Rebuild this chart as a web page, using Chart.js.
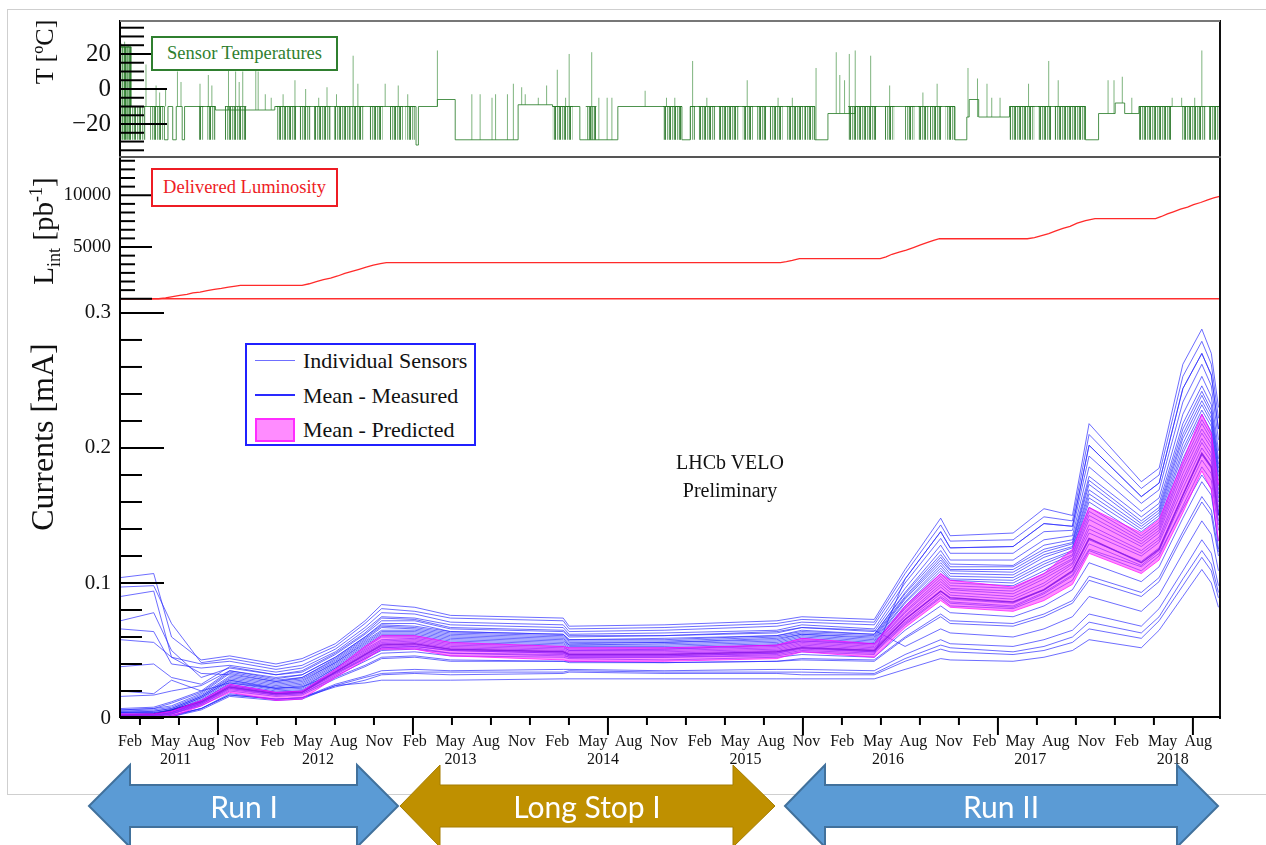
<!DOCTYPE html>
<html>
<head>
<meta charset="utf-8">
<script src="https://cdn.jsdelivr.net/npm/chart.js@4.4.1/dist/chart.umd.min.js"></script>
<style>
body { margin: 0; background: #fff; }
#wrap { position: relative; width: 1266px; height: 845px; overflow: hidden; background: #fff;
        font-family: "Liberation Serif", "Times New Roman", serif; color: #111; }
canvas { position: absolute; left: 0; }
.outer { position: absolute; left: 7px; top: 9px; width: 1300px; height: 786px; border: 1px solid #cfcfcf; box-sizing: border-box; }
.ytitle { position: absolute; transform: translate(-50%, -50%) rotate(-90deg); white-space: nowrap; line-height: 1; }
.ytitle sub, .ytitle sup { font-size: 0.62em; }
.tag { position: absolute; box-sizing: border-box; border: 2px solid; background: #fff;
       display: flex; align-items: center; justify-content: center; white-space: nowrap; }
.legend { position: absolute; left: 245px; top: 343px; width: 231px; height: 103px; box-sizing: border-box;
          border: 2px solid #2020ff; background: #fff; }
.legend .row { position: absolute; left: 56px; font-size: 22px; line-height: 1; white-space: nowrap; }
.legend .ln { position: absolute; left: 8px; width: 40px; }
.note { position: absolute; width: 200px; text-align: center; font-size: 20px; line-height: 1; }
.arrowtxt { position: absolute; transform: translate(-50%, -50%); color: #fff; white-space: nowrap;
            font-family: Lato, "Open Sans", sans-serif; font-size: 30px; line-height: 1; }
</style>
</head>
<body>
<div id="wrap">
  <div class="outer"></div>
  <canvas id="tempChart" width="1266" height="138" style="top:20px"></canvas>
  <canvas id="lumiChart" width="1266" height="142" style="top:158px"></canvas>
  <canvas id="currChart" width="1266" height="472" style="top:300px"></canvas>

  <div class="ytitle" style="left:45px;top:52px;font-size:26px">T [ºC]</div>
  <div class="ytitle" style="left:45px;top:231px;font-size:29px">L<sub>int</sub> [pb<sup>-1</sup>]</div>
  <div class="ytitle" style="left:42px;top:437px;font-size:32px">Currents [mA]</div>

  <div class="tag" style="left:151px;top:36px;width:187px;height:35px;border-color:#2f7f2f;color:#2f7f2f;font-size:18.5px">Sensor Temperatures</div>
  <div class="tag" style="left:151px;top:168px;width:187px;height:39px;border-color:#ee1c24;color:#ee1c24;font-size:18.5px">Delivered Luminosity</div>

  <div class="legend">
    <div class="ln" style="top:15px;height:0;border-top:1px solid #6f6fff"></div>
    <div class="row" style="top:5px">Individual Sensors</div>
    <div class="ln" style="top:49px;height:0;border-top:2px solid #2a2aff"></div>
    <div class="row" style="top:40px">Mean - Measured</div>
    <div class="ln" style="top:73px;height:24px;box-sizing:border-box;border:2px solid #ff2cff;background:#ff8cff"></div>
    <div class="row" style="top:74px">Mean - Predicted</div>
  </div>

  <div class="note" style="left:630px;top:452px">LHCb VELO</div>
  <div class="note" style="left:630px;top:480px">Preliminary</div>

  <svg width="1266" height="845" style="position:absolute;left:0;top:0">
    <polygon points="89,806 130,765 130,785 357,785 357,765 398,806 357,847 357,827 130,827 130,847"
             fill="#5b9bd5" stroke="#41719c" stroke-width="2"/>
    <polygon points="400,806 440,765 440,785 733,785 733,765 775,806 733,847 733,827 440,827 440,847"
             fill="#bf9000" stroke="#a57d00" stroke-width="1"/>
    <polygon points="785,806 825,765 825,785 1177,785 1177,765 1218,806 1177,847 1177,827 825,827 825,847"
             fill="#5b9bd5" stroke="#41719c" stroke-width="2"/>
  </svg>
  <div class="arrowtxt" style="left:244px;top:806px">Run I</div>
  <div class="arrowtxt" style="left:587px;top:806px">Long Stop I</div>
  <div class="arrowtxt" style="left:1001px;top:806px">Run II</div>
</div>

<script>
// x values are months counted from 1 Jan 2011 (Feb 2011 = 1)
const X_MIN = 0.16, X_MAX = 92.83;
const SERIF = '"Liberation Serif", "Times New Roman", serif';

// ---- sensor temperatures ----
const tempStepMonths = [0.16, 1.1, 3.9, 4.2, 4.6, 4.9, 5.4, 5.6, 8.2, 13.2, 25.1, 25.3, 26.9, 28.4, 33.7, 36.6, 38.9, 42.1,
  47.5, 48.2, 58.7, 59.8, 62.1, 70.5, 71.5, 71.7, 72.5, 75.1, 81.5, 82.6, 84.0, 84.8, 86.0, 92.83];
const tempStepValues = [24, -10, -29, -10, -29, -10, -29, -10, -12, -10, -32, -10, -6, -29, -9, -10, -29, -10,
  -29, -10, -29, -14, -10, -29, -16, -6, -16, -10, -29, -14, -8, -14, -10, -10];

const tempBlockStart = [0.2, 1.1, 2.7, 6.8, 7.5, 9.0, 13.3, 15.3, 16.5, 18.2, 19.6, 21.2, 22.9, 24.2, 36.6, 39.4, 45.9,
  48.2, 48.9, 50.6, 52.6, 53.8, 54.9, 56.3, 57.8, 61.5, 64.6, 66.3, 67.4, 68.4, 69.7, 75.1, 77.5, 78.9, 86.0, 89.6, 91.9];
const tempBlockEnd = [1.1, 2.3, 3.8, 7.2, 8.2, 10.8, 15.0, 16.2, 17.9, 19.6, 20.7, 22.3, 24.0, 25.0, 38.3, 40.3, 47.5,
  48.6, 50.3, 52.3, 53.5, 54.6, 56.0, 57.7, 58.7, 63.9, 65.4, 67.1, 68.3, 69.4, 70.5, 77.2, 78.6, 81.5, 88.8, 91.6, 92.83];
const tempBlockTop = [24, -10, -10, -10, -10, -10, -10, -10, -10, -10, -10, -10, -10, -10, -10, -10, -10,
  -10, -10, -10, -10, -10, -10, -10, -10, -10, -10, -10, -10, -10, -10, -10, -10, -10, -10, -10, -10];

const tempSpikeMonths = [0.25, 0.4, 0.55, 0.7, 0.85, 1.0, 2.35, 3.2, 3.5, 4.0, 5.0, 5.3, 6.9, 7.6, 7.9, 9.3, 9.9, 10.2, 10.5,
  11.6, 11.8, 12.4, 12.9, 13.9, 14.9, 15.8, 16.9, 17.6, 18.4, 19.8, 20.2, 22.5, 23.6, 24.4, 26.9, 29.8, 30.5, 31.5, 31.8,
  32.8, 33.3, 34.0, 34.3, 35.4, 36.1, 37.0, 37.7, 38.0, 39.9, 40.5, 41.2, 41.6, 44.4, 46.2, 46.9, 48.4, 49.6, 53.0, 55.6,
  56.8, 58.8, 60.5, 60.8, 61.2, 61.6, 62.1, 63.4, 65.0, 67.8, 69.0, 71.6, 72.4, 73.2, 73.6, 74.3, 76.7, 78.4, 79.2, 83.4,
  83.9, 84.6, 85.4, 88.8, 89.6, 90.7, 91.3];
const tempSpikeTops = [26, 25, 27, 24, 25, 22, 14, 2, -2, 0, 10, 4, 3, 8, 2, 12, 10, 4, 10,
  13, 10, -3, -5, -3, 5, 0, -5, 1, -3, 19, 3, 3, 2, -3, 22, -3, -3, -5, -3,
  -3, 3, 1, -3, -5, 2, 11, -5, 20, 21, -5, -5, -5, -1, -5, -5, 16, -5, 5, -5,
  -5, 12, 21, 8, 5, 20, 22, 19, 2, -2, 3, 12, 6, 3, -5, -5, 3, 16, 5, 5,
  5, 7, -5, -5, -5, -5, 22];
const tempSpikeBases = [-29, -29, -29, -29, -29, -29, -10, -10, -10, -10, -10, -10, -10, -10, -10, -12, -10, -10, -10,
  -12, -12, -12, -12, -10, -10, -10, -10, -10, -10, -10, -10, -10, -10, -10, -10, -29, -29, -29, -29,
  -29, -29, -9, -9, -9, -9, -10, -10, -10, -29, -29, -29, -29, -10, -10, -10, -10, -10, -10, -10,
  -10, -29, -14, -14, -14, -14, -10, -10, -10, -10, -10, -16, -16, -16, -16, -16, -10, -10, -10, -14,
  -14, -8, -14, -10, -10, -10, -10];

// ---- delivered luminosity (pb^-1) ----
const lumiMonths = [0.16, 3.4, 4.0, 4.6, 5.2, 5.8, 6.3, 6.9, 7.5, 8.1, 8.7, 9.3, 9.9, 10.3,
  15.5, 16.1, 16.7, 17.3, 17.9, 18.5, 19.1, 19.7, 20.3, 20.9, 21.5, 22.1, 22.6,
  55.8, 56.3, 56.8, 57.4,
  64.2, 64.7, 65.2, 65.8, 66.4, 67.0, 67.6, 68.2, 68.7, 69.2,
  76.6, 77.2, 77.8, 78.4, 79.0, 79.6, 80.2, 80.8, 81.5, 82.3,
  87.4, 87.9, 88.4, 88.9, 89.5, 90.1, 90.6, 91.2, 91.8, 92.3, 92.8];
const lumiValues = [0, 0, 80, 200, 330, 420, 560, 650, 780, 900, 1000, 1120, 1230, 1300,
  1300, 1450, 1650, 1850, 2000, 2200, 2450, 2650, 2850, 3050, 3250, 3400, 3500,
  3500, 3580, 3700, 3880,
  3880, 4050, 4300, 4500, 4700, 4950, 5200, 5450, 5650, 5800,
  5800, 5900, 6100, 6300, 6550, 6800, 7000, 7300, 7550, 7750,
  7750, 7950, 8200, 8400, 8650, 8850, 9100, 9300, 9550, 9750, 9900];

// ---- leakage currents (mA) ----
const knotMonths = [0.2, 3, 4.5, 7, 9.4, 13.3, 15.5, 18.3, 20.8, 22.2, 25, 28, 37.5, 38, 46, 55.5,
  57.6, 63.7, 66.3, 69.3, 70.1, 75.4, 78, 80.4, 81.8, 86.2, 87.7, 89.7, 91.3, 92.1, 92.7];
// one row per knot, one column per sensor
const sensorRows = [
  [.000,.000,.020,.001,.001,.002,.002,.002,.003,.004,.005,.058,.006,.007,.072,.066,.090,.097,.104,.002],
  [.000,.000,.018,.001,.001,.002,.002,.002,.003,.004,.005,.056,.007,.008,.078,.064,.094,.098,.107,.002],
  [.001,.002,.028,.003,.003,.004,.004,.004,.005,.006,.007,.045,.011,.012,.050,.040,.045,.070,.060,.003],
  [.006,.007,.020,.009,.010,.011,.012,.013,.014,.015,.016,.033,.019,.020,.030,.037,.040,.041,.043,.011],
  [.016,.017,.026,.020,.022,.023,.024,.025,.027,.028,.030,.032,.034,.035,.037,.039,.042,.044,.046,.022],
  [.013,.014,.022,.016,.017,.018,.019,.020,.022,.023,.025,.027,.028,.030,.032,.034,.036,.038,.040,.018],
  [.014,.015,.023,.017,.018,.019,.020,.021,.023,.025,.027,.029,.030,.032,.034,.037,.039,.042,.044,.019],
  [.024,.024,.033,.029,.031,.033,.034,.036,.037,.039,.041,.042,.044,.045,.047,.049,.051,.053,.055,.032],
  [.026,.030,.045,.038,.042,.044,.047,.049,.051,.053,.055,.057,.059,.060,.062,.065,.067,.070,.072,.044],
  [.028,.033,.052,.044,.048,.051,.053,.056,.058,.061,.063,.065,.068,.070,.072,.075,.078,.081,.084,.050],
  [.028,.034,.053,.045,.049,.052,.054,.057,.059,.061,.063,.065,.067,.070,.072,.074,.077,.079,.082,.051],
  [.028,.034,.050,.042,.046,.048,.051,.053,.055,.057,.059,.061,.063,.064,.066,.069,.071,.074,.076,.048],
  [.029,.034,.048,.042,.045,.047,.049,.051,.053,.055,.057,.059,.061,.062,.064,.067,.069,.072,.074,.046],
  [.029,.035,.046,.041,.044,.045,.047,.049,.050,.052,.054,.055,.057,.058,.060,.062,.064,.066,.068,.045],
  [.029,.034,.046,.041,.043,.045,.047,.049,.051,.052,.054,.056,.057,.059,.061,.063,.065,.067,.069,.045],
  [.029,.034,.048,.042,.045,.047,.049,.051,.053,.054,.056,.058,.060,.061,.063,.065,.068,.070,.072,.046],
  [.029,.034,.051,.043,.047,.050,.053,.055,.057,.058,.060,.062,.063,.065,.067,.069,.071,.073,.075,.049],
  [.029,.033,.049,.042,.045,.048,.050,.052,.054,.055,.057,.059,.061,.062,.064,.066,.069,.071,.073,.047],
  [.036,.044,.070,.059,.065,.069,.073,.076,.079,.082,.085,.088,.090,.093,.096,.100,.103,.107,.110,.103],
  [.044,.054,.090,.075,.083,.089,.094,.099,.103,.107,.111,.115,.119,.124,.128,.133,.138,.143,.148,.138],
  [.043,.052,.085,.070,.078,.083,.088,.093,.096,.100,.103,.107,.110,.114,.117,.122,.126,.131,.135,.126],
  [.042,.049,.082,.068,.075,.081,.085,.090,.094,.098,.102,.106,.110,.113,.117,.122,.127,.132,.137,.127],
  [.045,.053,.092,.075,.083,.090,.095,.100,.105,.109,.114,.119,.123,.128,.132,.138,.144,.149,.155,.144],
  [.050,.060,.105,.085,.095,.102,.108,.114,.117,.120,.123,.126,.129,.132,.135,.139,.142,.146,.150,.142],
  [.058,.071,.125,.102,.115,.124,.132,.140,.147,.153,.160,.166,.173,.179,.186,.194,.202,.210,.218,.202],
  [.052,.063,.112,.090,.101,.109,.116,.122,.127,.131,.135,.140,.144,.149,.153,.159,.164,.170,.175,.164],
  [.065,.075,.122,.101,.112,.120,.126,.132,.137,.141,.145,.150,.154,.159,.163,.169,.174,.180,.185,.174],
  [.090,.103,.155,.135,.148,.157,.165,.174,.181,.188,.196,.203,.210,.218,.225,.234,.244,.253,.262,.244],
  [.110,.124,.180,.160,.175,.186,.195,.204,.211,.218,.225,.232,.239,.246,.253,.262,.270,.279,.288,.270],
  [.100,.114,.170,.150,.165,.176,.185,.193,.200,.206,.212,.219,.225,.232,.238,.246,.254,.262,.270,.254],
  [.082,.093,.125,.120,.131,.139,.146,.153,.160,.166,.172,.179,.185,.192,.198,.206,.214,.222,.230,.214]
];
// more sensors, same knots
const sensorRowsB = [
  [.001,.002,.003,.004,.005,.016,.000,.002,.038,.004,.006,.000],
  [.001,.002,.003,.005,.006,.017,.000,.002,.040,.004,.007,.000],
  [.003,.004,.005,.007,.008,.020,.002,.004,.030,.006,.009,.001],
  [.010,.012,.013,.016,.017,.024,.007,.011,.025,.015,.018,.007],
  [.021,.024,.026,.029,.031,.035,.018,.023,.038,.028,.033,.017],
  [.017,.019,.021,.024,.026,.029,.014,.018,.032,.022,.027,.014],
  [.018,.020,.022,.026,.028,.032,.015,.019,.035,.024,.030,.015],
  [.030,.035,.037,.040,.041,.045,.025,.034,.048,.038,.043,.023],
  [.039,.048,.050,.054,.056,.060,.031,.046,.063,.052,.058,.028],
  [.045,.055,.057,.062,.064,.069,.035,.052,.074,.060,.067,.032],
  [.046,.056,.058,.062,.064,.068,.036,.053,.073,.060,.066,.033],
  [.043,.052,.054,.058,.060,.064,.035,.050,.067,.056,.062,.032],
  [.042,.050,.052,.056,.058,.062,.036,.048,.065,.054,.060,.033],
  [.042,.048,.050,.053,.054,.058,.036,.046,.061,.051,.056,.034],
  [.041,.048,.050,.053,.055,.058,.035,.046,.061,.051,.056,.033],
  [.042,.050,.052,.055,.057,.061,.036,.048,.064,.054,.059,.033],
  [.044,.054,.056,.059,.061,.064,.036,.052,.067,.057,.062,.032],
  [.043,.051,.053,.056,.058,.062,.035,.049,.065,.055,.060,.032],
  [.060,.075,.078,.083,.086,.092,.047,.071,.053,.081,.089,.042],
  [.077,.097,.101,.109,.113,.121,.058,.092,.066,.105,.117,.051],
  [.072,.091,.095,.102,.105,.112,.055,.086,.063,.098,.109,.049],
  [.070,.088,.092,.100,.104,.112,.053,.083,.060,.096,.108,.047],
  [.077,.098,.103,.112,.116,.125,.058,.093,.066,.107,.121,.050],
  [.087,.112,.115,.121,.124,.130,.065,.106,.075,.118,.127,.056],
  [.105,.137,.143,.156,.163,.176,.077,.129,.090,.150,.169,.066],
  [.093,.120,.124,.133,.138,.146,.068,.113,.079,.129,.142,.059],
  [.104,.130,.134,.143,.148,.156,.081,.124,.091,.139,.152,.072],
  [.138,.170,.177,.192,.199,.214,.109,.162,.122,.185,.207,.098],
  [.164,.200,.207,.221,.228,.242,.132,.191,.146,.214,.235,.119],
  [.154,.190,.196,.209,.216,.228,.122,.181,.136,.203,.222,.109],
  [.123,.150,.156,.169,.176,.188,.098,.143,.109,.163,.182,.089]
];
const meanMeasured = [.002,.003,.006,.012,.023,.018,.019,.034,.047,.054,.055,.051,.049,.047,.047,.049,
  .052,.050,.073,.094,.089,.086,.095,.109,.133,.115,.125,.165,.196,.186,.150];
const predLow  = [.000,.000,.001,.009,.019,.013,.014,.030,.043,.051,.051,.046,.043,.042,.042,.044,
  .049,.045,.067,.087,.082,.079,.087,.099,.122,.107,.117,.152,.183,.169,.131];
const predHigh = [.003,.003,.005,.013,.025,.019,.020,.036,.053,.061,.061,.056,.053,.052,.052,.054,
  .059,.055,.083,.107,.102,.097,.107,.125,.156,.137,.147,.190,.225,.211,.173];

// ---- time axis labels ----
const monthTickMonths = [1, 4, 7, 10, 13, 16, 19, 22, 25, 28, 31, 34, 37, 40, 43, 46, 49, 52, 55, 58,
  61, 64, 67, 70, 73, 76, 79, 82, 85, 88, 91];
const monthNames = ['Feb', 'May', 'Aug', 'Nov'];
const yearTickMonths = [4.85, 16.85, 28.85, 40.85, 52.85, 64.85, 76.85, 88.85];
const yearLabels = ['2011', '2012', '2013', '2014', '2015', '2016', '2017', '2018'];

// ROOT-like frame: inward y ticks, coloured borders, outward time ticks
function rootFrame(cfg) {
    return {
        id: 'rootFrame',
        afterDraw(chart) {
            const ctx = chart.ctx, a = chart.chartArea, ys = chart.scales.y;
            ctx.save();
            ctx.lineWidth = 2;
            ctx.strokeStyle = '#000';
            const first = Math.ceil(ys.min / cfg.minor - 1e-6);
            for (let k = first; k * cfg.minor <= ys.max + 1e-9; k++) {
                const v = k * cfg.minor;
                const r = v / cfg.major;
                const major = Math.abs(r - Math.round(r)) < 1e-6;
                const py = ys.getPixelForValue(v);
                ctx.beginPath();
                ctx.moveTo(a.left, py);
                ctx.lineTo(a.left + (major ? cfg.majorLen : cfg.minorLen), py);
                ctx.stroke();
            }
            if (cfg.xTicks) {
                const xs = chart.scales.x;
                for (let k = 0; ; k++) {
                    const v = 1.842 + k * 3.2854;
                    if (v > xs.max) break;
                    const px = xs.getPixelForValue(v);
                    ctx.beginPath();
                    ctx.moveTo(px, a.bottom);
                    ctx.lineTo(px, a.bottom + (k % 5 === 2 ? 17 : 7));
                    ctx.stroke();
                }
            }
            const line = (x1, y1, x2, y2, col) => {
                ctx.strokeStyle = col;
                ctx.beginPath(); ctx.moveTo(x1, y1); ctx.lineTo(x2, y2); ctx.stroke();
            };
            line(a.left, a.top, a.left, a.bottom, '#000');
            line(a.right, a.top, a.right, a.bottom + (cfg.bottom ? 1 : 0), '#111');
            if (cfg.top) line(a.left, a.top + 1, a.right, a.top + 1, cfg.top);
            if (cfg.bottom) line(a.left - 1, a.bottom - 1, a.right + 1, a.bottom - 1, cfg.bottom);
            ctx.restore();
        }
    };
}

function yAxis(min, max, ticks, fmt, size) {
    return {
        type: 'linear', min: min, max: max,
        grid: { display: false, drawTicks: false },
        border: { display: false },
        afterBuildTicks: s => { s.ticks = ticks.map(v => ({ value: v })); },
        afterFit: s => { s.width = 120; s.paddingTop = 0; s.paddingBottom = 0; },
        ticks: { padding: 9, color: '#111', font: { family: SERIF, size: size }, callback: fmt }
    };
}

function hiddenX() {
    return { type: 'linear', min: X_MIN, max: X_MAX, display: false, offset: false };
}

const baseOptions = {
    responsive: false,
    animation: false,
    devicePixelRatio: 1,
    layout: { autoPadding: false, padding: { left: 0, right: 46, top: 0, bottom: 0 } },
    plugins: { legend: { display: false }, tooltip: { enabled: false } },
    elements: { point: { radius: 0 }, line: { tension: 0 } }
};

// Temperature panel
const tempCanvas = document.getElementById('tempChart');
const stripe = document.createElement('canvas');
stripe.width = 5; stripe.height = 1;
const sg = stripe.getContext('2d');
['rgba(28,110,28,0.85)', 'rgba(255,255,255,0)', 'rgba(40,125,40,0.6)', 'rgba(120,180,120,0.3)', 'rgba(28,110,28,0.7)']
    .forEach((c, i) => { sg.fillStyle = c; sg.fillRect(i, 0, 1, 1); });
const stripePattern = tempCanvas.getContext('2d').createPattern(stripe, 'repeat');

const blockPoints = [];
tempBlockStart.forEach((s, i) => {
    blockPoints.push({ x: s, y: tempBlockTop[i] }, { x: tempBlockEnd[i], y: tempBlockTop[i] }, { x: tempBlockEnd[i], y: null });
});
const spikePoints = [];
tempSpikeMonths.forEach((m, i) => {
    spikePoints.push({ x: m, y: tempSpikeBases[i] }, { x: m, y: tempSpikeTops[i] }, { x: m, y: null });
});

new Chart(tempCanvas, {
    type: 'line',
    data: {
        datasets: [
            { label: 'spikes', data: spikePoints, borderColor: 'rgba(40,130,40,0.6)', borderWidth: 1, fill: false },
            { label: 'Sensor Temperatures', data: tempStepMonths.map((m, i) => ({ x: m, y: tempStepValues[i] })),
              stepped: 'before', borderColor: 'rgba(34,120,34,0.8)', borderWidth: 1, fill: false },
            { label: 'blocks', data: blockPoints, borderColor: 'rgba(34,115,34,0.8)', borderWidth: 1,
              backgroundColor: stripePattern, fill: { value: -29 } }
        ]
    },
    options: Object.assign({}, baseOptions, {
        scales: {
            x: hiddenX(),
            y: yAxis(-39.4, 39.4, [-20, 0, 20], v => v < 0 ? '\u2212' + Math.abs(v) : String(v), 25)
        }
    }),
    plugins: [rootFrame({ minor: 5, major: 20, minorLen: 24, majorLen: 47, top: '#777', bottom: '#555' })]
});

// Luminosity panel
new Chart(document.getElementById('lumiChart'), {
    type: 'line',
    data: {
        datasets: [
            { label: 'Delivered Luminosity', data: lumiMonths.map((m, i) => ({ x: m, y: lumiValues[i] })),
              borderColor: '#ff2a2a', borderWidth: 1.3, fill: false },
            { label: 'zero', data: [{ x: X_MIN, y: 0 }, { x: X_MAX, y: 0 }], borderColor: '#ff3030', borderWidth: 1.5, fill: false }
        ]
    },
    options: Object.assign({}, baseOptions, {
        scales: {
            x: hiddenX(),
            y: yAxis(-120, 13600, [5000, 10000], v => String(v), 19)
        }
    }),
    plugins: [rootFrame({ minor: 5000 / 6, major: 5000, minorLen: 15, majorLen: 32 })]
});

// Currents panel
function sensorSets(rows, offset) {
    return rows[0].map((_, j) => ({
        label: 'Sensor ' + (offset + j + 1),
        data: knotMonths.map((m, i) => ({ x: m, y: rows[i][j] })),
        borderColor: 'rgba(40,40,255,0.68)', borderWidth: 1, fill: false
    }));
}

new Chart(document.getElementById('currChart'), {
    type: 'line',
    data: {
        datasets: [
            { label: 'Mean - Predicted', data: knotMonths.map((m, i) => ({ x: m, y: predHigh[i] })),
              borderColor: 'rgba(255,0,255,0.7)', borderWidth: 1, backgroundColor: 'rgba(255,30,255,0.5)', fill: '+1' },
            { label: 'Mean - Predicted low', data: knotMonths.map((m, i) => ({ x: m, y: predLow[i] })),
              borderColor: 'rgba(255,0,255,0.7)', borderWidth: 1, fill: false },
            { label: 'Mean - Measured', data: knotMonths.map((m, i) => ({ x: m, y: meanMeasured[i] })),
              borderColor: 'rgba(25,25,210,0.9)', borderWidth: 1.5, fill: false }
        ].concat(sensorSets(sensorRows, 0), sensorSets(sensorRowsB, 20))
    },
    options: Object.assign({}, baseOptions, {
        scales: {
            x: {
                type: 'linear', min: X_MIN, max: X_MAX, offset: false,
                grid: { display: false, drawTicks: false }, border: { display: false },
                afterBuildTicks: s => { s.ticks = monthTickMonths.map(v => ({ value: v })); },
                afterFit: s => { s.height = 32; s.paddingLeft = 0; s.paddingRight = 0; },
                ticks: { autoSkip: false, maxRotation: 0, padding: 14, color: '#111',
                         font: { family: SERIF, size: 16 }, callback: (v, i) => monthNames[i % 4] }
            },
            x2: {
                type: 'linear', axis: 'x', position: 'bottom', weight: 1, min: X_MIN, max: X_MAX, offset: false,
                grid: { display: false, drawTicks: false }, border: { display: false },
                afterBuildTicks: s => { s.ticks = yearTickMonths.map(v => ({ value: v })); },
                afterFit: s => { s.height = 22; s.paddingLeft = 0; s.paddingRight = 0; },
                ticks: { autoSkip: false, maxRotation: 0, padding: 0, color: '#111',
                         font: { family: SERIF, size: 16 }, callback: (v, i) => yearLabels[i] }
            },
            y: yAxis(0, 0.3096, [0, 0.1, 0.2, 0.3], v => v === 0 ? '0' : v.toFixed(1), 21)
        }
    }),
    plugins: [rootFrame({ minor: 0.02, major: 0.1, minorLen: 22, majorLen: 44, bottom: '#000', xTicks: true })]
});
</script>
</body>
</html>
